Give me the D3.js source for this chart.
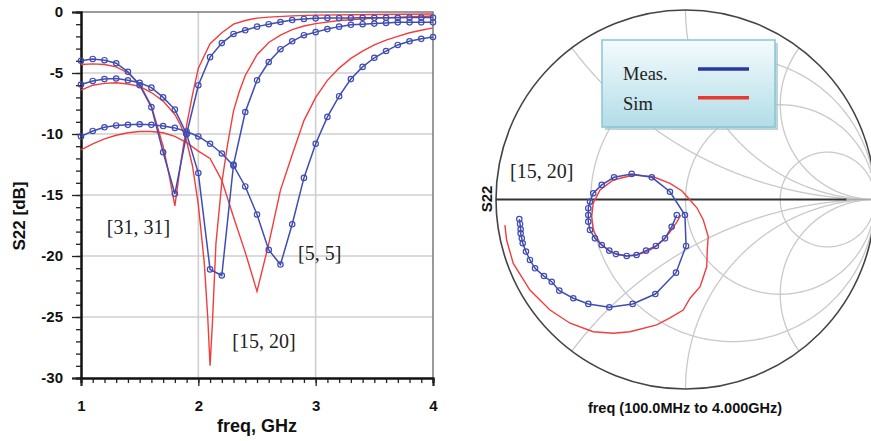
<!DOCTYPE html>
<html><head><meta charset="utf-8">
<script src="https://cdn.jsdelivr.net/npm/d3@7"></script>
<style>body{margin:0;background:#fff}svg{display:block}</style>
</head><body><svg id="c" width="871" height="441"></svg>
<script>
// ---------- S22 [dB] vs frequency ----------
const freqMeas=[1.0,1.1,1.2,1.3,1.4,1.5,1.6,1.7,1.8,1.9,2.0,2.1,2.2,2.3,2.4,2.5,2.6,2.7,2.8,2.9,3.0,3.1,3.2,3.3,3.4,3.5,3.6,3.7,3.8,3.9,4.0];
const meas31_31=[-4.0,-3.85,-3.95,-4.2,-4.9,-6.0,-7.8,-11.5,-14.9,-10.0,-6.0,-3.7,-2.55,-1.8,-1.5,-1.2,-1.0,-0.82,-0.66,-0.57,-0.52,-0.5,-0.5,-0.49,-0.48,-0.48,-0.47,-0.47,-0.46,-0.46,-0.45];
const meas15_20=[-5.95,-5.65,-5.5,-5.45,-5.6,-5.8,-6.2,-7.0,-8.0,-10.0,-13.2,-21.1,-21.6,-12.5,-8.2,-5.6,-4.1,-3.05,-2.4,-1.9,-1.65,-1.4,-1.2,-1.05,-1.0,-0.95,-0.9,-0.85,-0.85,-0.85,-0.85];
const meas5_5=[-10.2,-9.75,-9.45,-9.3,-9.25,-9.2,-9.25,-9.35,-9.5,-9.8,-10.2,-10.8,-11.6,-12.6,-14.3,-16.6,-19.5,-20.7,-17.4,-13.6,-10.8,-8.6,-6.9,-5.5,-4.5,-3.75,-3.2,-2.7,-2.4,-2.2,-2.05];

const freqSim31_31=[1.0,1.1,1.2,1.3,1.4,1.5,1.6,1.7,1.75,1.8,1.85,1.9,1.95,2.0,2.1,2.2,2.3,2.4,2.5,2.6,2.8,3.0,3.5,4.0];
const sim31_31=[-4.3,-4.25,-4.3,-4.5,-5.0,-5.9,-7.7,-11.0,-13.3,-15.9,-12.4,-9.3,-6.8,-4.6,-2.6,-1.7,-1.0,-0.7,-0.5,-0.42,-0.32,-0.26,-0.2,-0.16];
const freqSim15_20=[1.0,1.1,1.2,1.3,1.4,1.5,1.6,1.7,1.8,1.85,1.9,1.95,2.0,2.05,2.08,2.1,2.12,2.15,2.2,2.25,2.3,2.35,2.4,2.5,2.6,2.7,2.8,2.9,3.0,3.2,3.5,4.0];
const sim15_20=[-6.4,-6.0,-5.85,-5.8,-5.9,-6.1,-6.6,-7.3,-8.4,-9.3,-10.6,-12.6,-15.8,-20.5,-25.0,-29.0,-25.5,-19.0,-14.0,-10.8,-8.1,-6.5,-5.2,-3.5,-2.5,-1.9,-1.45,-1.15,-0.95,-0.7,-0.5,-0.33];
const freqSim5_5=[1.0,1.1,1.2,1.3,1.4,1.5,1.6,1.7,1.8,1.9,2.0,2.1,2.2,2.3,2.4,2.5,2.6,2.7,2.8,2.9,3.0,3.1,3.2,3.3,3.4,3.5,3.6,3.7,3.8,3.9,4.0];
const sim5_5=[-11.3,-10.8,-10.4,-10.1,-9.9,-9.8,-9.8,-9.9,-10.2,-10.7,-11.4,-12.0,-13.8,-16.8,-19.7,-22.9,-19.0,-14.6,-11.7,-8.9,-7.0,-5.6,-4.6,-3.8,-3.2,-2.7,-2.3,-2.0,-1.7,-1.5,-1.3];

const yTicks=[-30,-25,-20,-15,-10,-5,0];
const xTicks=[1,2,3,4];
const curveLabels=[{t:"[31, 31]",f:1.22,v:-18.2},{t:"[15, 20]",f:2.29,v:-27.5},{t:"[5, 5]",f:2.85,v:-20.3}];

// ---------- Smith chart (reflection coefficient, re / im) ----------
const smMeasRe=[-0.046,-0.073,-0.108,-0.156,-0.208,-0.258,-0.310,-0.367,-0.402,-0.442,-0.478,-0.504,-0.513,-0.513,-0.513,-0.504,-0.487,-0.442,-0.377,-0.284,-0.178,-0.082,-0.003,0.003,-0.050,-0.159,-0.279,-0.402,-0.513,-0.592,-0.666,-0.706,-0.747,-0.794,-0.821,-0.842,-0.859,-0.864,-0.870,-0.870,-0.873,-0.877];
const smMeasIm=[-0.082,-0.144,-0.205,-0.245,-0.270,-0.293,-0.298,-0.288,-0.270,-0.240,-0.205,-0.161,-0.117,-0.082,-0.046,-0.012,0.033,0.077,0.117,0.135,0.117,0.041,-0.082,-0.245,-0.386,-0.499,-0.551,-0.569,-0.551,-0.521,-0.481,-0.434,-0.404,-0.363,-0.319,-0.275,-0.231,-0.205,-0.178,-0.157,-0.129,-0.103];
const smSimRe=[-0.025,-0.046,-0.082,-0.117,-0.161,-0.205,-0.258,-0.310,-0.356,-0.398,-0.451,-0.487,-0.495,-0.487,-0.451,-0.381,-0.275,-0.170,-0.082,-0.018,0.024,0.061,0.094,0.120,0.115,0.112,0.077,0.024,-0.012,-0.082,-0.152,-0.293,-0.381,-0.487,-0.609,-0.715,-0.821,-0.909,-0.944,-0.953];
const smSimIm=[-0.082,-0.119,-0.172,-0.214,-0.251,-0.275,-0.293,-0.298,-0.290,-0.275,-0.231,-0.161,-0.091,-0.020,0.050,0.103,0.129,0.120,0.085,0.045,-0.003,-0.045,-0.108,-0.196,-0.266,-0.355,-0.460,-0.521,-0.583,-0.625,-0.662,-0.698,-0.706,-0.698,-0.653,-0.583,-0.478,-0.337,-0.214,-0.135];
const rCircles=[1/3,1,3];
const xArcs=[0.5,-0.5,1,-1,2,-2];
const legendItems=[{t:"Meas.",c:"#26399e"},{t:"Sim",c:"#e83a2c"}];

const BLUE="#3f4db3", RED="#f23d3d";
const svg=d3.select('#c');
const sans="'Liberation Sans', Arial, sans-serif";
const serif="'Liberation Serif','Times New Roman',serif";

// ===== Left chart =====
const x=d3.scaleLinear().domain([1,4]).range([81,433]);
const y=d3.scaleLinear().domain([-30,0]).range([378,12]);
const L=svg.append('g');
L.selectAll('line.gy').data(yTicks.filter(d=>d>-30&&d<0)).join('line')
 .attr('x1',x(1)).attr('x2',x(4)).attr('y1',d=>y(d)).attr('y2',d=>y(d))
 .attr('stroke','#cfcfcf').attr('stroke-width',1.6);
L.selectAll('line.gx').data(xTicks.filter(d=>d>1&&d<4)).join('line')
 .attr('x1',d=>x(d)).attr('x2',d=>x(d)).attr('y1',y(-30)).attr('y2',y(0))
 .attr('stroke','#cfcfcf').attr('stroke-width',1.6);
L.append('path').attr('d',`M${x(1)},${y(0)}H${x(4)}V${y(-30)}`).attr('fill','none').attr('stroke','#7a7a7a').attr('stroke-width',1.5);

const fmt=d=>String(d);
const yMinor=L.append('g').attr('transform',`translate(${x(1)},0)`)
 .call(d3.axisLeft(y).tickValues(d3.range(-30,0.5,1)).tickSize(5).tickFormat(''));
const yAx=L.append('g').attr('transform',`translate(${x(1)},0)`)
 .call(d3.axisLeft(y).tickValues(yTicks).tickSize(9).tickPadding(9).tickFormat(fmt));
const xMinor=L.append('g').attr('transform',`translate(0,${y(-30)})`)
 .call(d3.axisBottom(x).tickValues(d3.range(1,4.05,0.1)).tickSize(5).tickFormat(''));
const xAx=L.append('g').attr('transform',`translate(0,${y(-30)})`)
 .call(d3.axisBottom(x).tickValues(xTicks).tickSize(8).tickPadding(14).tickFormat(fmt));
[yMinor,yAx,xMinor,xAx].forEach(g=>{
  g.select('.domain').attr('stroke','#111').attr('stroke-width',2);
  g.selectAll('.tick line').attr('stroke','#222').attr('stroke-width',1.3);
  g.selectAll('.tick text').attr('font-family',sans).attr('font-weight','bold').attr('font-size',15).attr('fill','#111');
});
L.append('text').attr('transform','translate(25,216) rotate(-90)').attr('text-anchor','middle')
 .attr('font-family',sans).attr('font-weight','bold').attr('font-size',17).attr('fill','#111').text('S22 [dB]');
L.append('text').attr('x',257).attr('y',432).attr('text-anchor','middle')
 .attr('font-family',sans).attr('font-weight','bold').attr('font-size',18).attr('fill','#111').text('freq, GHz');

const line=d3.line().x(d=>x(d[0])).y(d=>y(d[1]));
const zip=(a,b)=>a.map((v,i)=>[v,b[i]]);
[[freqSim31_31,sim31_31],[freqSim15_20,sim15_20],[freqSim5_5,sim5_5]].forEach(([f,v])=>{
  L.append('path').attr('d',line(zip(f,v))).attr('fill','none').attr('stroke',RED).attr('stroke-width',1.4);
});
[meas31_31,meas15_20,meas5_5].forEach(v=>{
  const pts=zip(freqMeas,v);
  L.append('path').attr('d',line(pts)).attr('fill','none').attr('stroke',BLUE).attr('stroke-width',1.5);
  L.append('g').selectAll('circle').data(pts).join('circle')
   .attr('cx',d=>x(d[0])).attr('cy',d=>y(d[1])).attr('r',2.7)
   .attr('fill','none').attr('stroke',BLUE).attr('stroke-width',1.2);
});
L.selectAll('text.cl').data(curveLabels).join('text')
 .attr('x',d=>x(d.f)).attr('y',d=>y(d.v)).attr('font-family',serif).attr('font-size',20).attr('fill','#222').text(d=>d.t);

// ===== Smith chart =====
const sx=d3.scaleLinear().domain([-1,1]).range([496,875]);
const sy=d3.scaleLinear().domain([-1,1]).range([389,10]);
const S=svg.append('g');
const gam=(r,xx)=>{const D=(r+1)*(r+1)+xx*xx;return [(r*r-1+xx*xx)/D,2*xx/D];};
const sline=d3.line().x(d=>sx(d[0])).y(d=>sy(d[1]));
const N=400;
rCircles.forEach(r=>{
  const pts=d3.range(N+1).map(i=>{const th=-Math.PI/2+0.0005+(Math.PI-0.001)*i/N;return gam(r,Math.tan(th));});
  S.append('path').attr('d',sline(pts)).attr('fill','none').attr('stroke','#c9c9c9').attr('stroke-width',1.3);
});
xArcs.forEach(xx=>{
  const pts=d3.range(N+1).map(i=>{const th=(Math.PI/2-0.0005)*i/N;return gam(Math.tan(th),xx);});
  S.append('path').attr('d',sline(pts)).attr('fill','none').attr('stroke','#c9c9c9').attr('stroke-width',1.3);
});
S.append('circle').attr('cx',sx(0)).attr('cy',sy(0)).attr('r',sx(1)-sx(0)).attr('fill','none').attr('stroke','#444').attr('stroke-width',1.6);
S.append('line').attr('x1',sx(-1)).attr('x2',sx(0.85)).attr('y1',sy(0)).attr('y2',sy(0)).attr('stroke','#333').attr('stroke-width',1.8);
S.append('line').attr('x1',sx(0.85)).attr('x2',sx(1)).attr('y1',sy(0)).attr('y2',sy(0)).attr('stroke','#aaa').attr('stroke-width',1.5);

const defs=svg.append('defs');
const lg=defs.append('linearGradient').attr('id','lg').attr('x1',0).attr('x2',0).attr('y1',0).attr('y2',1);
lg.append('stop').attr('offset','0%').attr('stop-color','#f4fbfd');
lg.append('stop').attr('offset','100%').attr('stop-color','#b2dde8');
S.append('rect').attr('x',605).attr('y',43).attr('width',173).attr('height',87).attr('fill','#9fc3cc').attr('opacity',0.7);
S.append('rect').attr('x',602).attr('y',40).attr('width',173).attr('height',87).attr('fill','url(#lg)').attr('stroke','#88c6d4').attr('stroke-width',1.5);
legendItems.forEach((d,i)=>{
  S.append('text').attr('x',623).attr('y',80+i*30).attr('font-family',serif).attr('font-size',18.5).attr('fill','#222').text(d.t);
  S.append('line').attr('x1',698).attr('x2',749).attr('y1',69+i*28.7).attr('y2',69+i*28.7).attr('stroke',d.c).attr('stroke-width',3.5);
});

const simPts=zip(smSimRe,smSimIm), measPts=zip(smMeasRe,smMeasIm);
S.append('path').attr('d',sline(simPts)).attr('fill','none').attr('stroke',RED).attr('stroke-width',1.4);
S.append('path').attr('d',sline(measPts)).attr('fill','none').attr('stroke',BLUE).attr('stroke-width',1.5);
S.append('g').selectAll('circle').data(measPts).join('circle')
 .attr('cx',d=>sx(d[0])).attr('cy',d=>sy(d[1])).attr('r',2.7)
 .attr('fill','none').attr('stroke',BLUE).attr('stroke-width',1.2);

S.append('text').attr('x',510).attr('y',178).attr('font-family',serif).attr('font-size',20).attr('fill','#222').text('[15, 20]');
S.append('text').attr('transform','translate(492,199) rotate(-90)').attr('text-anchor','middle')
 .attr('font-family',sans).attr('font-weight','bold').attr('font-size',15).attr('fill','#111').text('S22');
S.append('text').attr('x',685).attr('y',413).attr('text-anchor','middle')
 .attr('font-family',sans).attr('font-weight','bold').attr('font-size',14.5).attr('fill','#111').text('freq (100.0MHz to 4.000GHz)');
</script></body></html>
